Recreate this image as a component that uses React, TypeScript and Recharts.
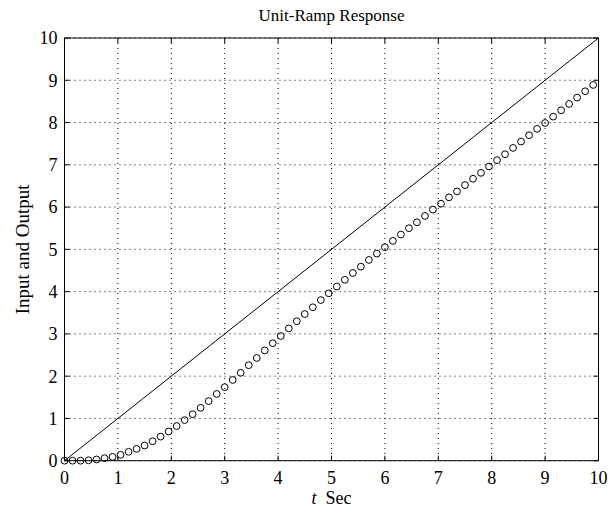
import { ComposedChart, Line, Scatter, XAxis, YAxis, CartesianGrid, Label } from 'recharts';

const tickValues = [0, 1, 2, 3, 4, 5, 6, 7, 8, 9, 10];

// unit-ramp input (solid line)
const rampTime = [0, 10];
const rampInput = [0, 10];

// sampled output (circles)
const sampleTime = [
  0, 0.15, 0.3, 0.45, 0.6, 0.75, 0.9, 1.05, 1.2, 1.35, 1.5, 1.65, 1.8, 1.95, 2.1, 2.25, 2.4,
  2.55, 2.7, 2.85, 3, 3.15, 3.3, 3.45, 3.6, 3.75, 3.9, 4.05, 4.2, 4.35, 4.5, 4.65, 4.8, 4.95,
  5.1, 5.25, 5.4, 5.55, 5.7, 5.85, 6, 6.15, 6.3, 6.45, 6.6, 6.75, 6.9, 7.05, 7.2, 7.35, 7.5,
  7.65, 7.8, 7.95, 8.1, 8.25, 8.4, 8.55, 8.7, 8.85, 9, 9.15, 9.3, 9.45, 9.6, 9.75, 9.9,
];
const sampleOutput = [
  0, 0.0, 0.0, 0.01, 0.03, 0.06, 0.09, 0.14, 0.21, 0.28, 0.36, 0.46, 0.57, 0.69, 0.82, 0.96, 1.1,
  1.25, 1.41, 1.58, 1.74, 1.91, 2.08, 2.26, 2.43, 2.61, 2.78, 2.95, 3.13, 3.3, 3.47, 3.63, 3.8, 3.96,
  4.12, 4.28, 4.44, 4.59, 4.75, 4.9, 5.05, 5.2, 5.35, 5.5, 5.64, 5.79, 5.94, 6.08, 6.23, 6.37, 6.52,
  6.67, 6.81, 6.96, 7.11, 7.25, 7.4, 7.55, 7.7, 7.85, 7.99, 8.14, 8.29, 8.44, 8.59, 8.74, 8.89,
];

const rampData = rampTime.map((t, i) => ({ t, y: rampInput[i] }));
const outputData = sampleTime.map((t, i) => ({ t, c: sampleOutput[i] }));

const FONT = "'Liberation Serif', 'Times New Roman', serif";
const tickStyle = { fill: '#000', fontSize: 18, fontFamily: FONT };

function OpenCircle(props: any) {
  const { cx, cy } = props;
  if (cx == null || cy == null) return null;
  return <circle cx={cx} cy={cy} r={3.4} fill="none" stroke="#000" strokeWidth={1} />;
}

export default function App() {
  return (
    <div style={{ position: 'absolute', left: 0, top: 0, width: 612, height: 511, background: '#fff' }}>
      <ComposedChart width={612} height={511} margin={{ top: 37, right: 12.5, bottom: 20, left: 0 }}>
        <CartesianGrid stroke="#000" strokeDasharray="1 4" strokeWidth={1} />
        <XAxis
          dataKey="t"
          type="number"
          domain={[0, 10]}
          ticks={tickValues}
          interval={0}
          height={30.3}
          stroke="#000"
          tickSize={-5}
          tickMargin={16}
          tick={tickStyle}
        >
          <Label
            content={(p: any) => {
              const vb = p.viewBox;
              return (
                <text x={vb.x + vb.width / 2} y={504} textAnchor="middle" fontFamily={FONT} fontSize={18} fill="#000">
                  <tspan fontStyle="italic">t</tspan>
                  <tspan>{'\u00a0\u00a0Sec'}</tspan>
                </text>
              );
            }}
          />
        </XAxis>
        <XAxis
          xAxisId="top"
          orientation="top"
          type="number"
          dataKey="t"
          domain={[0, 10]}
          ticks={tickValues}
          interval={0}
          height={1}
          stroke="#000"
          tickSize={-5}
          tickFormatter={() => ''}
        >
          <Label
            content={(p: any) => {
              const vb = p.viewBox;
              return (
                <text x={vb.x + vb.width / 2} y={21} textAnchor="middle" fontFamily={FONT} fontSize={17} fill="#000">
                  Unit-Ramp Response
                </text>
              );
            }}
          />
        </XAxis>
        <YAxis
          type="number"
          domain={[0, 10]}
          ticks={tickValues}
          interval={0}
          width={64.5}
          stroke="#000"
          tickSize={-5}
          tickMargin={12}
          tick={tickStyle}
        >
          <Label
            content={(p: any) => {
              const vb = p.viewBox;
              const cy = vb.y + vb.height / 2;
              return (
                <text
                  x={23}
                  y={cy}
                  transform={`rotate(-90 23 ${cy})`}
                  textAnchor="middle"
                  dominantBaseline="central"
                  fontFamily={FONT}
                  fontSize={19}
                  fill="#000"
                >
                  Input and Output
                </text>
              );
            }}
          />
        </YAxis>
        <YAxis
          yAxisId="right"
          orientation="right"
          type="number"
          domain={[0, 10]}
          ticks={tickValues}
          interval={0}
          width={1}
          stroke="#000"
          tickSize={-5}
          tickFormatter={() => ''}
        />
        <Line
          data={rampData}
          dataKey="y"
          xAxisId="top"
          yAxisId="right"
          type="linear"
          stroke="#000"
          strokeWidth={1}
          dot={false}
          activeDot={false}
          isAnimationActive={false}
        />
        <Scatter data={outputData} dataKey="c" shape={OpenCircle} isAnimationActive={false} />
      </ComposedChart>
    </div>
  );
}
